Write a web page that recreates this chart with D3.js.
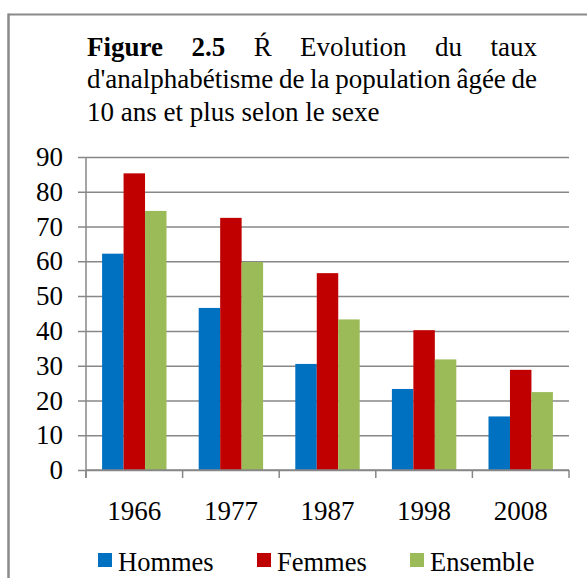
<!DOCTYPE html>
<html>
<head>
<meta charset="utf-8">
<script src="https://cdn.jsdelivr.net/npm/d3@7"></script>
<style>
  html, body { margin: 0; padding: 0; background: #fff; }
  svg text { font-family: "Liberation Serif", Tinos, "Times New Roman", Times, serif; fill: #000; }
  .axis .domain { display: none; }
</style>
</head>
<body>
<svg id="chart"></svg>
<script>
// Data
const years = ['1966', '1977', '1987', '1998', '2008'];
const seriesNames = ['Hommes', 'Femmes', 'Ensemble'];
const seriesColors = ['#0070C0', '#C00000', '#9BBB59'];
const hommes = [62.2, 46.6, 30.5, 23.3, 15.4];
const femmes = [85.3, 72.5, 56.6, 40.2, 28.8];
const ensemble = [74.5, 59.8, 43.3, 31.8, 22.4];
const yTicks = [0, 10, 20, 30, 40, 50, 60, 70, 80, 90];
const titleLines = [
  { words: [['Figure', true], ['2.5', true], ['Ŕ'], ['Evolution'], ['du'], ['taux']], justify: true },
  { words: [["d'analphabétisme"], ['de'], ['la'], ['population'], ['âgée'], ['de']], justify: true },
  { words: [['10'], ['ans'], ['et'], ['plus'], ['selon'], ['le'], ['sexe']], justify: false }
];

const W = 587, H = 578;
const plot = { left: 86, right: 569, top: 157, bottom: 470 };
const fontSize = 27;
const serif = '"Liberation Serif", Tinos, "Times New Roman", Times, serif';

const svg = d3.select('#chart').attr('width', W).attr('height', H);

// frame (only top and left edges visible in the crop)
svg.append('line').attr('x1', 8.5).attr('x2', W).attr('y1', 14.5).attr('y2', 14.5)
  .attr('stroke', '#8a8a8a').attr('stroke-width', 2);
svg.append('line').attr('x1', 8.5).attr('x2', 8.5).attr('y1', 13.5).attr('y2', H)
  .attr('stroke', '#8a8a8a').attr('stroke-width', 2.5);

// title, justified word by word
const titleLeft = 87, titleWidth = 450, titleBase = 56, lineGap = 32.3;
titleLines.forEach((line, i) => {
  const g = svg.append('g');
  const nodes = line.words.map(([w, bold]) => g.append('text')
    .attr('y', titleBase + i * lineGap)
    .style('font-family', serif)
    .style('font-size', fontSize + 'px')
    .style('font-weight', bold ? 'bold' : 'normal')
    .text(w));
  const widths = nodes.map(n => n.node().getComputedTextLength());
  const space = fontSize * 0.25;
  const gap = line.justify
    ? (titleWidth - d3.sum(widths)) / (nodes.length - 1)
    : space;
  let x = titleLeft;
  nodes.forEach((n, j) => { n.attr('x', x); x += widths[j] + gap; });
});

// scales
const x0 = d3.scaleBand().domain(years).range([plot.left, plot.right]).padding(0);
const x1 = d3.scaleBand().domain(seriesNames)
  .range([x0.bandwidth() / 6, x0.bandwidth() * 5 / 6]).padding(0);
const y = d3.scaleLinear().domain([0, 90]).range([plot.bottom, plot.top]);

// gridlines (they also form the left tick marks)
svg.append('g')
  .attr('class', 'axis grid')
  .attr('transform', `translate(${plot.left - 8},0)`)
  .call(d3.axisRight(y).tickValues(yTicks).tickSize(plot.right - plot.left + 8).tickFormat(''))
  .call(g => g.selectAll('line').attr('stroke', '#878787').attr('stroke-width', 1.5));

// y labels
svg.append('g')
  .attr('class', 'axis y-axis')
  .attr('transform', `translate(${plot.left},0)`)
  .call(d3.axisLeft(y).tickValues(yTicks).tickSize(0).tickPadding(23))
  .attr('font-family', serif)
  .call(g => g.selectAll('text').style('font-size', fontSize + 'px').style('font-family', serif));

// bars
const table = years.map((yr, i) => ({ year: yr, values: [hommes[i], femmes[i], ensemble[i]] }));
svg.append('g').selectAll('g')
  .data(table)
  .join('g')
  .attr('transform', d => `translate(${x0(d.year)},0)`)
  .selectAll('rect')
  .data(d => d.values.map((v, k) => ({ key: seriesNames[k], value: v, color: seriesColors[k] })))
  .join('rect')
  .attr('x', d => x1(d.key))
  .attr('width', x1.bandwidth())
  .attr('y', d => y(d.value))
  .attr('height', d => y(0) - y(d.value))
  .attr('fill', d => d.color);

// y axis line
svg.append('line')
  .attr('x1', plot.left).attr('x2', plot.left)
  .attr('y1', y(90)).attr('y2', plot.bottom + 8)
  .attr('stroke', '#878787').attr('stroke-width', 1.5);

// x axis line and boundary ticks
svg.append('line')
  .attr('x1', plot.left).attr('x2', plot.right)
  .attr('y1', plot.bottom).attr('y2', plot.bottom)
  .attr('stroke', '#878787').attr('stroke-width', 1.5);
const bounds = years.map(d => x0(d)).concat([x0(years[years.length - 1]) + x0.bandwidth()]);
svg.append('g').selectAll('line')
  .data(bounds)
  .join('line')
  .attr('x1', d => d).attr('x2', d => d)
  .attr('y1', plot.bottom).attr('y2', plot.bottom + 8)
  .attr('stroke', '#878787').attr('stroke-width', 1.5);

// x labels
svg.append('g')
  .attr('class', 'axis x-axis')
  .attr('transform', `translate(0,${plot.bottom})`)
  .call(d3.axisBottom(x0).tickSize(0).tickPadding(31))
  .attr('font-family', serif)
  .call(g => g.selectAll('text').style('font-size', fontSize + 'px').style('font-family', serif));

// legend
const legendX = [98, 257, 410];
const legend = svg.append('g').selectAll('g')
  .data(seriesNames)
  .join('g')
  .attr('transform', (d, i) => `translate(${legendX[i]},553)`);
legend.append('rect')
  .attr('width', 14).attr('height', 14)
  .attr('fill', (d, i) => seriesColors[i]);
legend.append('text')
  .attr('x', 20).attr('y', 18)
  .style('font-family', serif)
  .style('font-size', '26.5px')
  .text(d => d);
</script>
</body>
</html>
